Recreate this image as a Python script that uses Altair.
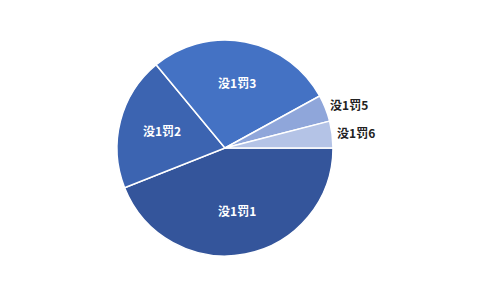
import altair as alt
import pandas as pd
import math

categories = ["没1罚1", "没1罚2", "没1罚3", "没1罚5", "没1罚6"]
values = [33, 15, 21, 3, 3]
colors = ["#34559b", "#3c64b1", "#4472c4", "#8fa6da", "#b4c3e6"]
inside = [True, True, True, False, False]

df = pd.DataFrame({
    "cat": categories,
    "val": values,
    "idx": list(range(len(categories))),
    "inside": inside,
})

theta = alt.Theta("val:Q", stack=True,
                  scale=alt.Scale(range=[math.pi / 2, math.pi / 2 + 2 * math.pi]))
order = alt.Order("idx:Q", sort="ascending")
cx = alt.value(225)
cy = alt.value(148)

arcs = alt.Chart(df).mark_arc(outerRadius=108, stroke="white", strokeWidth=1.5).encode(
    theta=theta, order=order, x=cx, y=cy,
    color=alt.Color("cat:N", scale=alt.Scale(domain=categories, range=colors), legend=None)
)

lbl = alt.Chart(df).transform_joinaggregate(
    total="sum(val)"
).transform_window(
    cum="sum(val)", sort=[alt.SortField("idx", order="ascending")],
    frame=[None, 0]
).transform_calculate(
    mid=f"{math.pi / 2} + 2 * PI * (datum.cum - datum.val / 2) / datum.total"
)

txt_in = lbl.transform_filter("datum.inside").mark_text(
    radius=65, font="Noto Sans CJK SC", fontSize=12, fontWeight="bold", color="white"
).encode(theta=alt.Theta("mid:Q", scale=None), x=cx, y=cy, text="cat:N")

txt_out = lbl.transform_filter("!datum.inside").mark_text(
    radius=113, font="Noto Sans CJK SC", fontSize=12, fontWeight="bold", color="#222222",
    align="left", baseline="middle"
).encode(theta=alt.Theta("mid:Q", scale=None), x=cx, y=cy, text="cat:N")

chart = alt.layer(arcs, txt_in, txt_out).resolve_scale(theta="independent").properties(
    width=478, height=290, padding=0,
    autosize=alt.AutoSizeParams(type="none")
).configure_view(stroke=None)

chart.save("out.html", embed_options={"renderer": "svg", "actions": False})
